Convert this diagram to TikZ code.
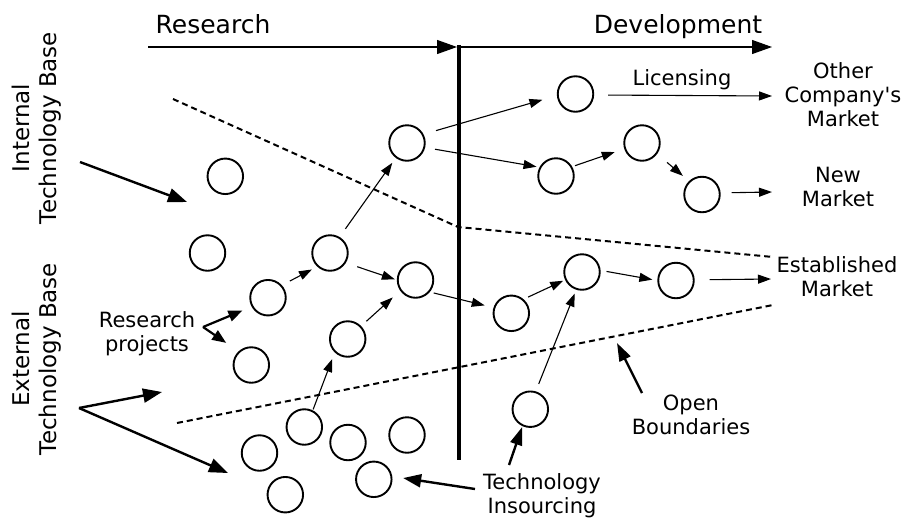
\documentclass[tikz,border=0pt]{standalone}
\usepackage{fontspec}
\setmainfont{DejaVu Sans}[Ligatures=TeXOff]
\usetikzlibrary{arrows.meta}
\begin{document}
\begin{tikzpicture}[x=1pt,y=-1pt,
  circ/.style={circle,draw,line width=1.9pt,minimum size=35.5pt,inner sep=0pt},
  thinarrow/.style={line width=1.1pt,-{Triangle[length=13pt,width=9pt]}},
  boldarrow/.style={line width=2.4pt,-{Triangle[length=19pt,width=14pt]}},
  smallbold/.style={line width=2.2pt,-{Triangle[length=14pt,width=11pt]}},
  axisarrow/.style={line width=1.2pt,-{Triangle[length=20pt,width=14pt]}},
  boundary/.style={line width=2pt,dash pattern=on 6pt off 4pt},
  lbl/.style={font=\fontsize{21}{24}\selectfont,align=center,inner sep=0pt},
  side/.style={font=\fontsize{23}{27}\selectfont,align=center,inner sep=0pt,rotate=90},
  title/.style={font=\fontsize{25}{30}\selectfont,inner sep=0pt,anchor=base}
]
\useasboundingbox (0,0) rectangle (907,523);

% titles and axis
\node[title] (research) at (213,33) {Research};
\node[title] (development) at (678,33) {Development};
\coordinate (ax0) at (148,47);
\coordinate (axm) at (457,47);
\coordinate (axm2) at (461,47);
\coordinate (ax1) at (772,47);
\draw[axisarrow] (ax0) -- (axm);
\draw[axisarrow] (axm2) -- (ax1);
\coordinate (vtop) at (459,45);
\coordinate (vbot) at (459,460);
\draw[line width=4.5pt] (vtop) -- (vbot);

% side labels
\node[side] (internal) at (37,128) {Internal\\Technology Base};
\node[side] (external) at (37,359) {External\\Technology Base};

% boundaries
\coordinate (u0) at (173,99);
\coordinate (u1) at (458,227);
\coordinate (u2) at (773,257);
\draw[boundary] (u0) -- (u1) -- (u2);
\coordinate (l0) at (177,423);
\coordinate (l1) at (773,305);
\draw[boundary] (l0) -- (l1);

% circles
\node[circ] (a1) at (225.3,176.3) {};
\node[circ] (a2) at (207.5,253) {};
\node[circ] (b1) at (407,143) {};
\node[circ] (b2) at (330,253) {};
\node[circ] (c1) at (268,297.7) {};
\node[circ] (c2) at (415.5,280) {};
\node[circ] (d1) at (251.3,365) {};
\node[circ] (e1) at (347.7,339) {};
\node[circ] (f1) at (304.3,427) {};
\node[circ] (f2) at (259.5,453) {};
\node[circ] (f3) at (348,442.5) {};
\node[circ] (f4) at (407,435) {};
\node[circ] (f5) at (373.8,479.3) {};
\node[circ] (f6) at (285.3,494.7) {};
\node[circ] (r1) at (575.5,94) {};
\node[circ] (r2) at (556,176) {};
\node[circ] (r3) at (642,143) {};
\node[circ] (r4) at (702,194.5) {};
\node[circ] (s1) at (511.3,313.3) {};
\node[circ] (s2) at (582,272) {};
\node[circ] (s3) at (676,280.5) {};
\node[circ] (s4) at (530.3,409.2) {};

% market labels
\node[lbl] (licensing) at (682,85) [anchor=base] {Licensing};
\node[lbl] (other) at (843,95) {Other\\Company's\\Market};
\node[lbl] (newm) at (838,187) {New\\Market};
\node[lbl] (estab) at (837,277) {Established\\Market};
\node[lbl] (openb) at (691,415) {Open\\Boundaries};
\node[lbl] (insrc) at (542,496) {Technology\\Insourcing};
\node[lbl] (rproj) at (147,334) {Research\\projects};

\coordinate (m1) at (772,96);
\coordinate (m2) at (772,192);
\coordinate (m3) at (771,279);

% thin flow arrows
\draw[thinarrow,shorten <=10pt,shorten >=6pt] (b2.59) -- (b1.233);
\draw[thinarrow,shorten <=13pt,shorten >=15pt] (b1.28) -- (r1.185);
\draw[thinarrow,shorten <=10pt,shorten >=3pt] (b1.-14) -- (r2.152);
\draw[thinarrow,shorten <=14pt] (r1.-3) -- (m1);
\draw[thinarrow,shorten <=3pt,shorten >=10pt] (r2.30) -- (r3.198);
\draw[thinarrow,shorten <=13pt,shorten >=8pt] (r3.-36) -- (r4.134);
\draw[thinarrow,shorten <=11pt] (r4.5) -- (m2);
\draw[thinarrow,shorten <=9pt,shorten >=6pt] (c1.42) -- (b2.227);
\draw[thinarrow,shorten <=12pt,shorten >=2pt] (b2.-32) -- (c2.180);
\draw[thinarrow,shorten <=7pt,shorten >=10pt] (e1.44) -- (c2.215);
\draw[thinarrow,shorten <=4pt,shorten >=9pt] (c2.-40) -- (s1.162);
\draw[thinarrow,shorten <=5pt,shorten >=2pt] (s1.49) -- (s2.205);
\draw[thinarrow,shorten <=6pt,shorten >=5pt] (s2.5) -- (s3.180);
\draw[thinarrow,shorten <=15pt] (s3.2) -- (m3);
\draw[thinarrow,shorten <=8pt,shorten >=4pt] (s4.73) -- (s2.252);
\draw[thinarrow,shorten <=1pt,shorten >=7pt] (f1.63) -- (e1.226);

% annotation arrows
\coordinate (in0) at (80,162);
\coordinate (in1) at (187,202);
\draw[boldarrow] (in0) -- (in1);
\coordinate (ex0) at (79,408);
\coordinate (ex1) at (162,392);
\coordinate (ex2) at (228,473);
\draw[boldarrow] (ex0) -- (ex1);
\draw[boldarrow] (ex0) -- (ex2);
\coordinate (rp) at (203,327);
\draw[smallbold,shorten >=10pt] (rp) -- (c1.209.5);
\draw[smallbold,shorten >=15pt] (rp) -- (d1.133.6);
\coordinate (ti1) at (475,489);
\coordinate (ti2) at (509,465);
\draw[smallbold,line width=2.4pt,-{Triangle[length=18pt,width=13pt]},shorten >=11pt] (ti1) -- (f5.9.6);
\draw[smallbold,line width=2.4pt,-{Triangle[length=18pt,width=12pt]},shorten >=1pt] (ti2) -- (s4.245);
\coordinate (ob0) at (642,393);
\coordinate (ob1) at (617,343);
\draw[smallbold,line width=2.4pt,-{Triangle[length=18pt,width=12pt]}] (ob0) -- (ob1);
\end{tikzpicture}
\end{document}
